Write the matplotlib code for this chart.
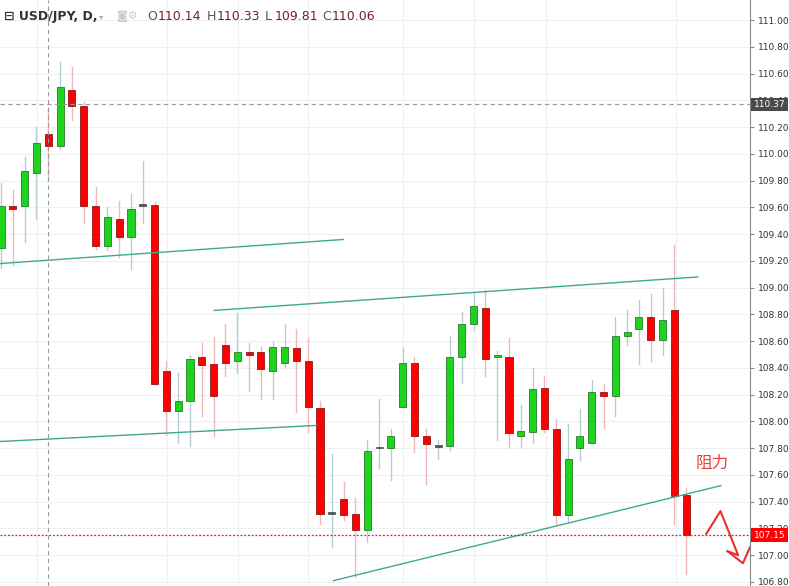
import matplotlib
matplotlib.use("Agg")
import matplotlib.pyplot as plt
from matplotlib.patches import Rectangle
import numpy as np

plt.rcParams['font.family'] = ['DejaVu Sans', 'Noto Sans CJK SC']

opens  = [109.30,109.61,109.61,109.86,110.15,110.06,110.48,110.36,109.61,109.31,109.51,109.38,109.61,109.62,108.38,108.08,108.15,108.48,108.43,108.57,
          108.45,108.52,108.52,108.38,108.44,108.55,108.45,108.10,107.31,107.42,107.31,107.19,107.80,107.80,108.11,108.44,107.89,107.81,107.82,108.48,
          108.73,108.85,108.48,108.48,107.89,107.92,108.25,107.94,107.30,107.80,107.84,108.22,108.19,108.64,108.69,108.78,108.61,108.83,107.45]
closes = [109.61,109.59,109.87,110.08,110.06,110.50,110.36,109.61,109.31,109.53,109.38,109.59,109.61,108.28,108.08,108.15,108.47,108.42,108.19,108.44,
          108.52,108.50,108.39,108.56,108.56,108.45,108.11,107.31,107.31,107.30,107.19,107.78,107.80,107.89,108.44,107.89,107.83,107.82,108.48,108.73,
          108.86,108.47,108.50,107.91,107.93,108.24,107.94,107.30,107.72,107.89,108.22,108.19,108.64,108.67,108.78,108.61,108.76,107.44,107.15]
highs  = [109.78,109.73,109.98,110.20,110.33,110.69,110.65,110.39,109.75,109.60,109.65,109.70,109.95,109.64,108.45,108.36,108.50,108.59,108.63,108.73,
          108.81,108.59,108.56,108.60,108.73,108.69,108.62,108.15,107.76,107.55,107.43,107.86,108.17,107.94,108.55,108.48,107.94,107.86,108.64,108.82,
          108.96,108.98,108.53,108.62,108.12,108.40,108.34,108.02,107.98,108.09,108.31,108.28,108.78,108.83,108.91,108.95,109.00,109.32,107.50]
lows   = [109.15,109.17,109.34,109.51,109.81,110.04,110.25,109.48,109.29,109.28,109.23,109.14,109.48,108.27,107.90,107.84,107.82,108.04,107.89,108.34,
          108.36,108.23,108.17,108.17,108.41,108.07,107.92,107.23,107.06,107.26,106.84,107.10,107.65,107.56,108.11,107.77,107.53,107.72,107.79,108.29,
          108.68,108.34,107.86,107.81,107.81,107.84,107.92,107.23,107.24,107.71,107.84,107.95,108.04,108.57,108.43,108.45,108.50,107.23,106.86]

trend_lines = [((-0.08, 109.18), (28.98, 109.36)),
               ((18.05, 108.83), (58.98, 109.08)),
               ((-0.08, 107.85), (26.70, 107.97)),
               ((28.14, 106.81), (60.93, 107.52))]
yticks = np.round(np.arange(106.8, 111.01, 0.2), 2)
vgrid = [3.05, 14.05, 20.05, 26.0, 34.05, 40.0, 46.1, 57.1]
last_price = 107.15
cross_price = 110.37
cross_idx = 4

fig = plt.figure(figsize=(7.89, 5.86), dpi=100)
ax = fig.add_axes([0, 0, 750/789, 1])
ax.set_xlim(-0.085, 63.4)
ax.set_ylim(106.77, 111.15)

for v in yticks:
    ax.axhline(v, color='#eef0f2', lw=0.8, zorder=0)
for v in vgrid:
    ax.axvline(v, color='#eef0f2', lw=0.8, zorder=0)

w = 0.6
for i, (o, c, h, l) in enumerate(zip(opens, closes, highs, lows)):
    if abs(c - o) < 0.015:
        col, wick, edge = '#555555', '#b8ccd4', '#555555'
    elif c > o:
        col, wick, edge = '#1dd41d', '#b8ccd4', '#2a7a2a'
    else:
        col, wick, edge = '#ff0000', '#f0b8b8', '#8b1a1a'
    ax.plot([i, i], [l, h], color=wick, lw=1, zorder=1)
    hgt = max(abs(c - o), 0.012)
    ax.add_patch(Rectangle((i - w/2, min(o, c)), w, hgt, facecolor=col,
                           edgecolor=edge, lw=0.6, zorder=2))

for (x0, y0), (x1, y1) in trend_lines:
    ax.plot([x0, x1], [y0, y1], color='#3fa893', lw=1, zorder=3)

ax.axhline(last_price, color='#e02020', lw=0.9, ls=(0, (1.5, 1.5)), zorder=3)
ax.axhline(cross_price, color='#999999', lw=0.8, ls=(0, (4, 3)), zorder=3)
ax.axvline(cross_idx, color='#999999', lw=0.8, ls=(0, (4, 3)), zorder=3)

# hand drawn arrow
ax.plot([59.7, 60.9, 62.4, 61.5], [107.16, 107.33, 107.00, 107.03], color='#e83030', lw=1.5, zorder=4)
ax.plot([61.5, 62.8, 63.4], [107.03, 106.94, 107.06], color='#e83030', lw=1.5, zorder=4)
ax.text(58.8, 107.65, '阻力', color='#e84040', fontsize=12,
        family=['Noto Sans CJK SC'], zorder=5)

ax.set_xticks([])
ax.yaxis.tick_right()
ax.set_yticks(yticks)
ax.set_yticklabels([f'{v:.2f}' for v in yticks], fontsize=6.5, color='#333333')
ax.tick_params(axis='y', length=3, color='#888888', pad=3)
for s in ['top', 'left', 'bottom']:
    ax.spines[s].set_visible(False)
ax.spines['right'].set_color('#888888')

trans = ax.get_yaxis_transform()
ax.text(1.005, last_price, f'{last_price:.2f}', transform=trans, fontsize=6.5, color='white',
        va='center', ha='left', bbox=dict(boxstyle='square,pad=0.25', fc='#ff0000', ec='none'), zorder=6)
ax.text(1.005, cross_price, f'{cross_price:.2f}', transform=trans, fontsize=6.5, color='white',
        va='center', ha='left', bbox=dict(boxstyle='square,pad=0.25', fc='#4a4a4a', ec='none'), zorder=6)

fig.text(0.005, 0.972, '⊟ USD/JPY, D,', fontsize=9, color='#333333', va='center', fontweight='bold')
fig.text(0.125, 0.972, '▾', fontsize=6, color='#aaaaaa', va='center')
fig.text(0.148, 0.972, '◙⚙', fontsize=8, color='#cccccc', va='center')
hdr = [('O', 0.187, '110.14'), ('H', 0.262, '110.33'), ('L', 0.335, '109.81'), ('C', 0.408, '110.06')]
for lab, x, val in hdr:
    fig.text(x, 0.972, lab, fontsize=9, color='#555555', va='center')
    fig.text(x + 0.013, 0.972, val, fontsize=9, color='#7a1f1f', va='center')

fig.savefig('out.png', dpi=100, facecolor='white')
